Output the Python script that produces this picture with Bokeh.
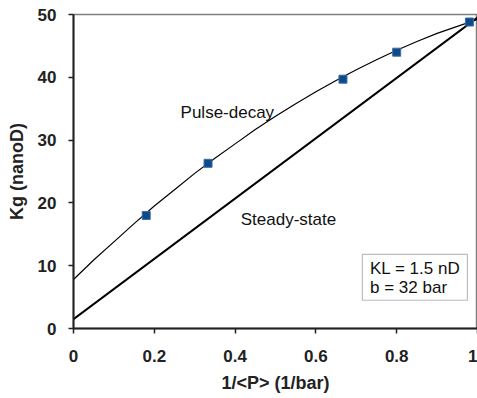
from bokeh.plotting import figure
from bokeh.models import Range1d, FixedTicker, CustomJSTickFormatter, Label, BoxAnnotation
from bokeh.embed import file_html
from bokeh.resources import INLINE

# measured data points (1/<P>, Kg)
meas_x = [0.18, 0.333, 0.667, 0.80, 0.98]
meas_y = [18.0, 26.3, 39.7, 44.0, 48.8]

# pulse-decay trend curve
pulse_x = [0.0, 0.05, 0.1, 0.15, 0.2, 0.25, 0.3, 0.35, 0.4, 0.45, 0.5,
           0.55, 0.6, 0.65, 0.7, 0.75, 0.8, 0.85, 0.9, 0.95, 1.0]
pulse_y = [7.8, 10.9, 13.8, 16.7, 19.5, 22.1, 24.7, 27.1, 29.4, 31.7, 33.8,
           35.8, 37.7, 39.5, 41.2, 42.8, 44.3, 45.7, 47.0, 48.1, 49.2]

# steady-state line
steady_x = [0.0, 1.0]
steady_y = [1.5, 49.5]

x_ticks = [0, 0.2, 0.4, 0.6, 0.8, 1.0]
y_ticks = [0, 10, 20, 30, 40, 50]

FONT = "Liberation Sans"

p = figure(width=477, height=398, output_backend="svg", toolbar_location=None,
           x_range=Range1d(0, 1), y_range=Range1d(0, 50),
           min_border_left=73, min_border_right=0, min_border_top=14, min_border_bottom=70)
p.background_fill_color = "white"
p.border_fill_color = "white"
p.outline_line_color = "#808080"
p.outline_line_width = 1.5
p.xgrid.visible = False
p.ygrid.visible = False

for ax in (p.xaxis[0], p.yaxis[0]):
    ax.axis_line_color = "#222222"
    ax.axis_line_width = 2
    ax.major_tick_line_color = "#222222"
    ax.major_tick_line_width = 1.5
    ax.major_tick_out = 5
    ax.major_tick_in = 0
    ax.minor_tick_out = 0
    ax.minor_tick_in = 0
    ax.major_label_text_font = FONT
    ax.major_label_text_font_style = "bold"
    ax.major_label_text_font_size = "17px"
    ax.major_label_text_color = "#222222"
    ax.axis_label_text_font = FONT
    ax.axis_label_text_font_style = "bold"
    ax.axis_label_text_font_size = "18px"
    ax.axis_label_text_color = "#222222"

p.xaxis.ticker = FixedTicker(ticks=x_ticks)
p.yaxis.ticker = FixedTicker(ticks=y_ticks)
p.xaxis.formatter = CustomJSTickFormatter(code="return (tick == 0 || tick == 1) ? tick.toFixed(0) : tick.toFixed(1);")
p.xaxis.axis_label = "1/<P> (1/bar)"
p.yaxis.axis_label = "Kg (nanoD)"
p.xaxis.major_label_standoff = 16
p.yaxis.major_label_standoff = 12
p.xaxis.axis_label_standoff = 8
p.yaxis.axis_label_standoff = 8

p.line(steady_x, steady_y, line_color="black", line_width=2)
p.line(pulse_x, pulse_y, line_color="black", line_width=1.2)
p.scatter(meas_x, meas_y, marker="square", size=8, fill_color="#0D4A8A",
          line_color="#3C6EA8", line_width=1)

p.add_layout(Label(x=0.265, y=34.4, text="Pulse-decay", text_font=FONT,
                   text_font_size="17px", text_baseline="middle", text_color="#111111"))
p.add_layout(Label(x=0.414, y=17.4, text="Steady-state", text_font=FONT,
                   text_font_size="17px", text_baseline="middle", text_color="#111111"))
p.add_layout(BoxAnnotation(left=0.715, right=0.975, bottom=4.5, top=11.8,
                           fill_color="white", fill_alpha=1, line_color="#222222", line_width=1.2))
p.add_layout(Label(x=0.734, y=9.55, text="KL = 1.5 nD", text_font=FONT,
                   text_font_size="17px", text_baseline="middle", text_color="#111111"))
p.add_layout(Label(x=0.734, y=6.5, text="b = 32 bar", text_font=FONT,
                   text_font_size="17px", text_baseline="middle", text_color="#111111"))

open("out.html", "w").write(file_html(p, INLINE))
